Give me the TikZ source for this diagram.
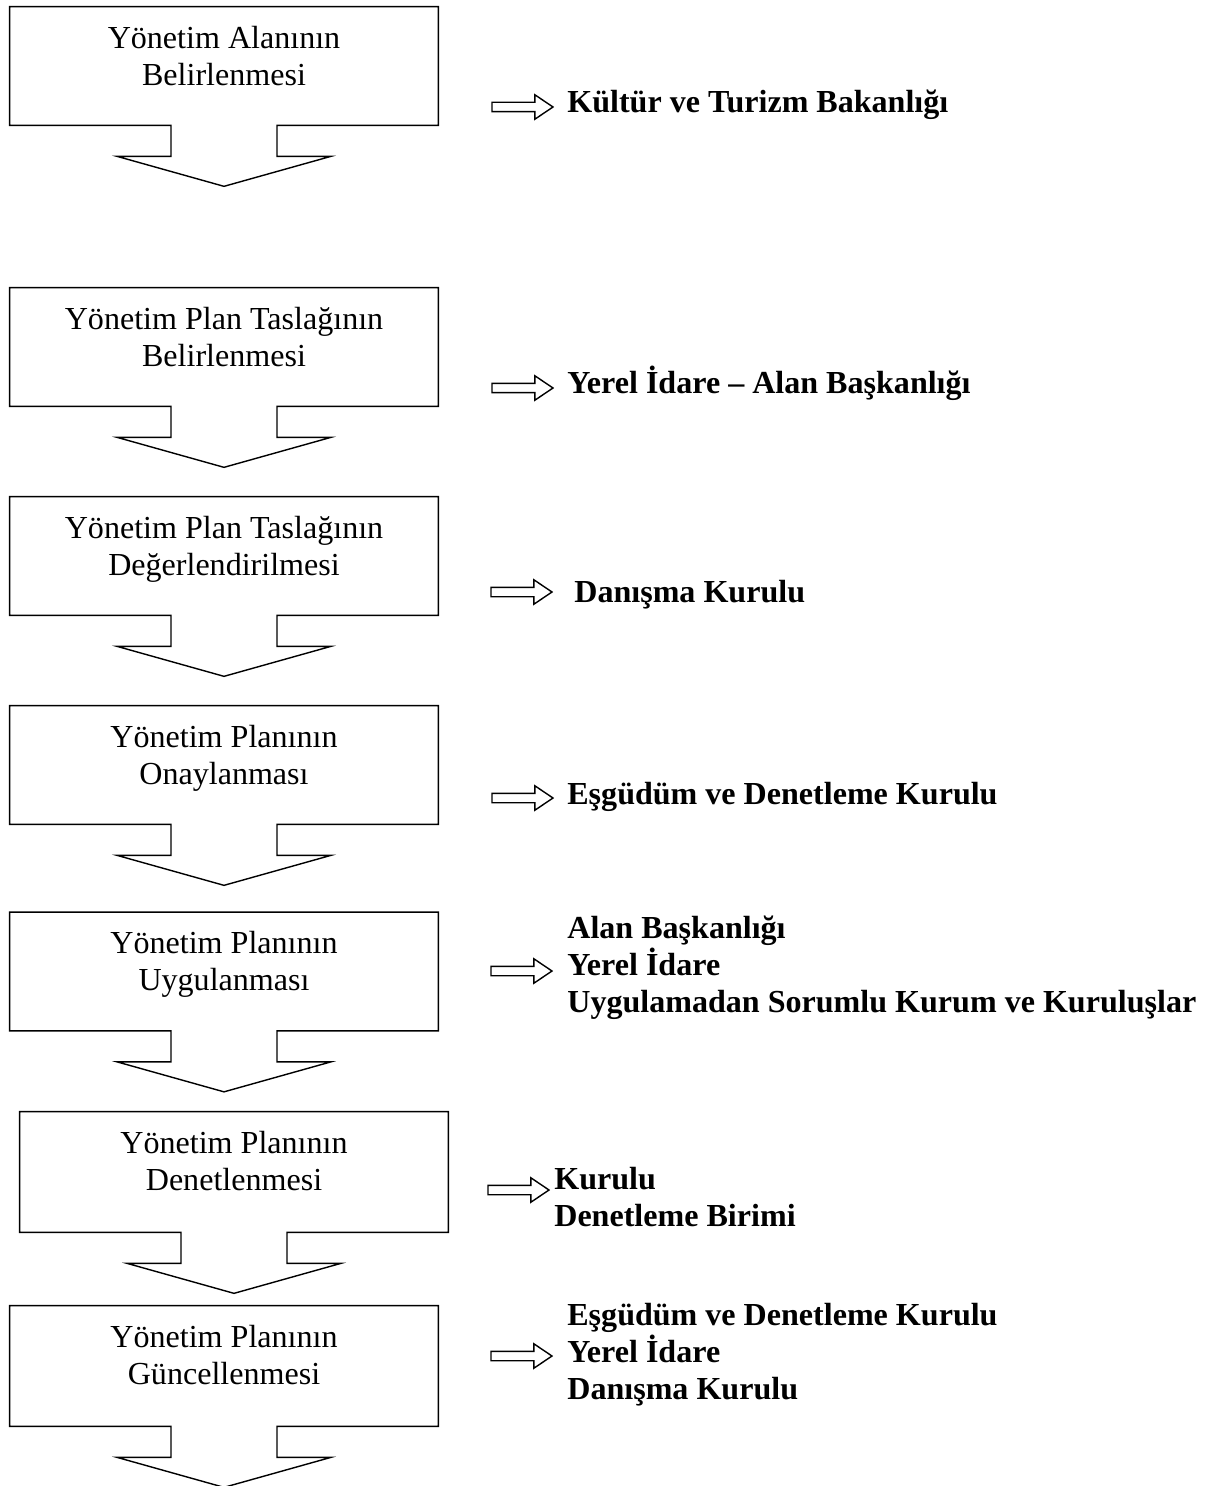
\documentclass[tikz,border=0pt]{standalone}
\usepackage{fontspec}
\setmainfont{Liberation Serif}
\usetikzlibrary{positioning,calc,shapes.arrows}

\begin{document}
\begin{tikzpicture}[x=0.02cm,y=-0.02cm]
   \tikzstyle{every node}=[inner sep=0pt, font=\fontsize{18.25}{21}\selectfont]
   \tikzstyle{step box}=[rectangle, minimum width=8.56cm, minimum height=2.36cm]
   \tikzstyle{step text}=[align=center]
   \tikzstyle{who}=[anchor=base west, align=left, font=\fontsize{18.25}{21}\selectfont\bfseries]
   \tikzstyle{pointer}=[draw, single arrow, inner sep=0.08cm, minimum height=1.22cm, minimum width=0.46cm, single arrow head extend=0.15cm, single arrow tip angle=68, line width=0.8pt]
   \tikzstyle{outline}=[line width=0.8pt, line join=miter]

\useasboundingbox (0,0) rectangle (1206,1486);

% the steps
\node[step box] (b1) at (224,66) {};
\node[step box] (b2) at (224,347) {};
\node[step box] (b3) at (224,556) {};
\node[step box] (b4) at (224,765) {};
\node[step box] (b5) at (224,971.5) {};
\node[step box, minimum height=2.4cm] (b6) at (234,1172) {};
\node[step box, minimum height=2.4cm] (b7) at (224,1366) {};

\node[step text, below=0.38cm of b1.north] (t1) {Yönetim Alanının\\Belirlenmesi};
\node[step text, below=0.38cm of b2.north] (t2) {Yönetim Plan Taslağının\\Belirlenmesi};
\node[step text, below=0.38cm of b3.north] (t3) {Yönetim Plan Taslağının\\Değerlendirilmesi};
\node[step text, below=0.38cm of b4.north] (t4) {Yönetim Planının\\Onaylanması};
\node[step text, below=0.38cm of b5.north] (t5) {Yönetim Planının\\Uygulanması};
\node[step text, below=0.38cm of b6.north] (t6) {Yönetim Planının\\Denetlenmesi};
\node[step text, below=0.38cm of b7.north] (t7) {Yönetim Planının\\Güncellenmesi};

\foreach \b in {b1,b2,b3,b4,b5,b6,b7}
  \draw[outline] ($(\b.south)+(53,0)$) -- (\b.south east) -- (\b.north east)
     -- (\b.north west) -- (\b.south west) -- ($(\b.south)+(-53,0)$)
     -- ++(0,31) -- ++(-54,0) -- ($(\b.south)+(0,61)$)
     -- ($(\b.south)+(107,31)$) -- ($(\b.south)+(53,31)$) -- cycle;

% who is responsible
\node[pointer] (p1) at (519,107) {};
\node[pointer] (p2) at (519,388) {};
\node[pointer] (p3) at (518,592) {};
\node[pointer] (p4) at (519,798) {};
\node[pointer] (p5) at (518,971) {};
\node[pointer] (p6) at (515,1190) {};
\node[pointer] (p7) at (518,1356) {};

\node[who] (w1) at (567,113) {Kültür ve Turizm Bakanlığı};
\node[who] (w2) at (567,394) {Yerel İdare – Alan Başkanlığı};
\node[who] (w3) at (574,602) {Danışma Kurulu};
\node[who] (w4) at (567,804) {Eşgüdüm ve Denetleme Kurulu};
\node[who, anchor=west] (w5) at (567,968) {Alan Başkanlığı\\Yerel İdare\\Uygulamadan Sorumlu Kurum ve Kuruluşlar};
\node[who, anchor=west] (w6) at (554,1197) {Kurulu\\Denetleme Birimi};
\node[who, anchor=west] (w7) at (567,1355) {Eşgüdüm ve Denetleme Kurulu\\Yerel İdare\\Danışma Kurulu};

\end{tikzpicture}
\end{document}
